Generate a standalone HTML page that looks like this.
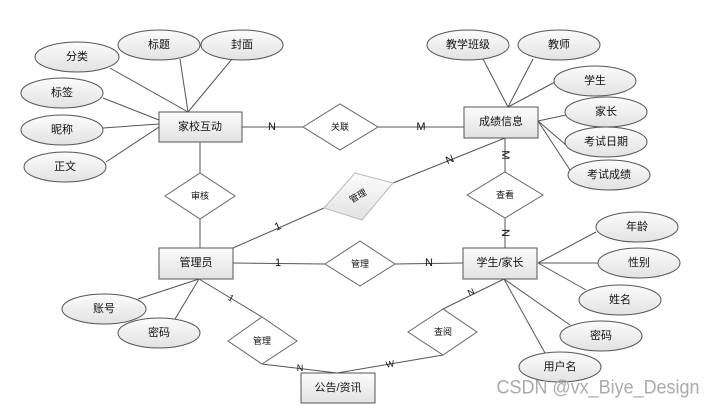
<!DOCTYPE html>
<html><head><meta charset="utf-8"><style>
html,body{margin:0;padding:0;background:#fff;}
svg{display:block;}
text{font-family:"Liberation Sans","Noto Sans CJK SC",sans-serif;font-size:11px;fill:#111;text-anchor:middle;dominant-baseline:central;}
.s{font-size:9px;}
.l{font-size:11px;}
</style></head><body>
<svg width="716" height="409" viewBox="0 0 716 409">
<defs>
<linearGradient id="g" x1="0" y1="0" x2="0" y2="1"><stop offset="0" stop-color="#fcfcfc"/><stop offset="1" stop-color="#e2e2e2"/></linearGradient>
</defs>
<g stroke="#555" stroke-width="1" fill="none">
<line x1="110" y1="68" x2="188" y2="112"/><line x1="180" y1="59" x2="188" y2="112"/><line x1="232" y1="59" x2="188" y2="112"/>
<line x1="103" y1="98" x2="159" y2="120"/><line x1="103" y1="128" x2="159" y2="124"/><line x1="106" y1="162" x2="159" y2="127"/>
<line x1="483" y1="59" x2="508" y2="107"/><line x1="533" y1="59" x2="508" y2="107"/><line x1="555" y1="82" x2="508" y2="107"/>
<line x1="566" y1="115" x2="538" y2="121"/><line x1="566" y1="145" x2="538" y2="121"/><line x1="570" y1="170" x2="538" y2="121"/>
<line x1="242" y1="127" x2="303" y2="127"/><line x1="378" y1="127" x2="464" y2="127"/>
<line x1="200" y1="142" x2="200" y2="173"/><line x1="200" y1="219" x2="200" y2="248"/>
<line x1="505" y1="138" x2="505" y2="173"/><line x1="505" y1="218" x2="505" y2="248"/>
<line x1="505" y1="138" x2="393" y2="183"/><line x1="324" y1="208" x2="233" y2="248"/>
<line x1="233" y1="263" x2="325" y2="264"/><line x1="395" y1="264" x2="463" y2="263"/>
<line x1="199" y1="279" x2="138" y2="299"/><line x1="199" y1="279" x2="175" y2="319"/>
<line x1="199" y1="279" x2="262" y2="317"/><line x1="262" y1="364" x2="337" y2="373"/>
<line x1="337" y1="373" x2="443" y2="355"/><line x1="443" y1="309" x2="504" y2="279"/>
<line x1="504" y1="279" x2="545" y2="353"/><line x1="504" y1="279" x2="570" y2="325"/>
<line x1="538" y1="263" x2="596" y2="232"/><line x1="538" y1="263" x2="598" y2="263"/><line x1="538" y1="263" x2="586" y2="290"/>
</g>
<g stroke="#555" fill="url(#g)">
<ellipse cx="77" cy="57" rx="42" ry="15"/><ellipse cx="159" cy="45" rx="41" ry="15"/><ellipse cx="242" cy="45" rx="41" ry="15"/>
<ellipse cx="62" cy="93" rx="41" ry="15"/><ellipse cx="62" cy="130" rx="41" ry="15"/><ellipse cx="65" cy="167" rx="41" ry="15"/>
<ellipse cx="468" cy="45" rx="41" ry="15"/><ellipse cx="559" cy="45" rx="41" ry="15"/><ellipse cx="595" cy="81" rx="41" ry="15"/>
<ellipse cx="606" cy="112" rx="41" ry="15"/><ellipse cx="606" cy="142" rx="41" ry="15"/><ellipse cx="609" cy="175" rx="41" ry="15"/>
<ellipse cx="637" cy="227" rx="41" ry="15"/><ellipse cx="639" cy="263" rx="41" ry="15"/><ellipse cx="620" cy="300" rx="41" ry="15"/>
<ellipse cx="601" cy="336" rx="41" ry="15"/><ellipse cx="560" cy="367" rx="41" ry="15"/>
<ellipse cx="104" cy="309" rx="42" ry="15"/><ellipse cx="159" cy="333" rx="41" ry="15"/>
<rect x="159" y="112" width="83" height="30"/><rect x="464" y="107" width="74" height="31"/>
<rect x="159" y="248" width="74" height="31"/><rect x="463" y="248" width="74" height="31"/><rect x="301" y="373" width="74" height="30"/>
</g>
<g stroke="#666" fill="#fff">
<polygon points="303,127 340,104 378,127 340,150"/>
<polygon points="165,196 200,173 235,196 200,219"/>
<polygon points="467,195 505,172 543,195 505,218"/>
<polygon points="325,264 360,241 395,264 360,286"/>
<polygon points="228,341 262,317 297,341 262,364"/>
<polygon points="408,332 443,309 477,332 443,355"/>
</g>
<polygon points="324,208 355,173 393,183 362,220" fill="url(#g)" stroke="#bbb"/>
<text x="77" y="57">分类</text><text x="159" y="45">标题</text><text x="242" y="45">封面</text>
<text x="62" y="93">标签</text><text x="62" y="130">昵称</text><text x="65" y="167">正文</text>
<text x="468" y="45">教学班级</text><text x="559" y="45">教师</text><text x="595" y="81">学生</text>
<text x="606" y="112">家长</text><text x="606" y="142">考试日期</text><text x="609" y="175">考试成绩</text>
<text x="637" y="227">年龄</text><text x="639" y="263">性别</text><text x="620" y="300">姓名</text>
<text x="601" y="336">密码</text><text x="560" y="367">用户名</text>
<text x="104" y="309">账号</text><text x="159" y="333">密码</text>
<text x="200" y="127" class="l">家校互动</text><text x="501" y="122" class="l">成绩信息</text>
<text x="196" y="263">管理员</text><text x="500" y="263">学生/家长</text><text x="338" y="388" class="l">公告/资讯</text>
<text x="340" y="127" class="s">关联</text><text x="200" y="196" class="s">审核</text><text x="505" y="195" class="s">查看</text>
<text x="360" y="264" class="s">管理</text><text x="262" y="341" class="s">管理</text><text x="443" y="332" class="s">查阅</text>
<text x="358" y="196" class="s" transform="rotate(-30 358 196)">管理</text>
<text x="272" y="127">N</text><text x="421" y="127">M</text>
<text x="505" y="155" transform="rotate(90 505 155)">M</text>
<text x="505" y="233" transform="rotate(90 505 233)">N</text>
<text x="450" y="160" transform="rotate(-22 450 160)">N</text>
<text x="278" y="227" transform="rotate(-22 278 227)">1</text>
<text x="278" y="263">1</text><text x="429" y="263">N</text>
<text x="231" y="298" class="s" transform="rotate(30 231 298)">1</text>
<text x="300" y="368" class="s">N</text><text x="390" y="364" class="s" transform="rotate(-10 390 364)">W</text>
<text x="471" y="292" class="s" transform="rotate(-25 471 292)">N</text>
<text x="598" y="388" style="font-size:19px;fill:#aaa;" textLength="203" lengthAdjust="spacingAndGlyphs">CSDN @vx_Biye_Design</text>
</svg>
</body></html>
